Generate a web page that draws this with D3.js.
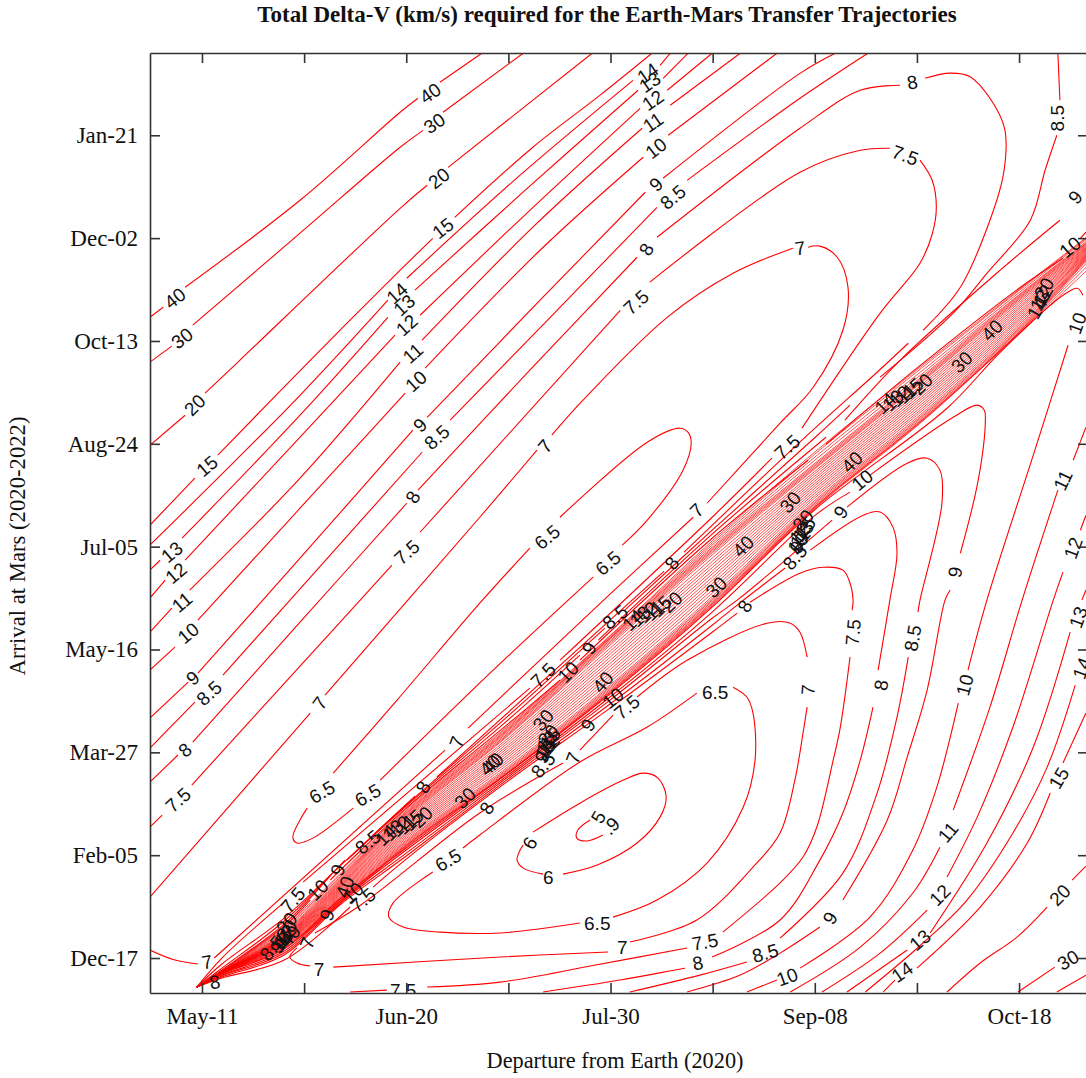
<!DOCTYPE html>
<html>
<head>
<meta charset="utf-8">
<script src="https://cdn.jsdelivr.net/npm/d3@7"></script>
<style>
  body { margin: 0; background: #fff; }
  svg { display: block; }
  .axis path, .axis line { stroke: #333; stroke-width: 1.6; }
  .axis text { font-family: "Liberation Serif", serif; font-size: 23px; fill: #111; }
  .title { font-family: "Liberation Serif", serif; fill: #111; }
  .contour { fill: none; stroke: #f00; stroke-width: 1.1; }
  .bundle { fill: none; stroke: #f00; stroke-width: 0.7; }
  .clabel { font-family: "Liberation Sans", sans-serif; font-size: 19px; fill: #111; text-anchor: middle; }
</style>
</head>
<body>
<div id="chart"></div>
<script>
// days since May-11 (departure) and days since Dec-17 (arrival)
const depTicks = [0, 20, 40, 60, 80, 100, 120, 140, 160];
const depLabels = {0: "May-11", 40: "Jun-20", 80: "Jul-30", 120: "Sep-08", 160: "Oct-18"};
const arrTicks = [0, 50, 100, 150, 200, 250, 300, 350, 400];
const arrLabels = ["Dec-17", "Feb-05", "Mar-27", "May-16", "Jul-05", "Aug-24", "Oct-13", "Dec-02", "Jan-21"];

// null = break in the line where a label sits
const c40 = [[-10.2,311.5],[-7.6,316.4],null,[-3.3,326.1],[19.2,368.4],[38.8,411.2],[42.3,418],null,[46.6,425.8],[54.8,439.9]];
const c30 = [[-10.2,289.7],[-5.9,297.5],null,[-1.8,307.7],[19.2,352.4],[38.8,394.2],[43.3,402.4],null,[47.2,411.2],[62.9,439.9]];
const c20 = [[-10.2,249.3],[-3.3,263.9],null,[.6,274.6],[7.4,290.6],[38.8,364.5],[44.1,375.7],null,[48.2,384.4],[76.4,439.9]];
const c15 = [[-10.2,210.4],[-1.4,233.3],null,[3.1,244.5],[21.2,290.6],[38.8,334.4],[45.2,349.9],null,[49.5,360.1],[64.8,394.2],[77.9,419.4],[88.1,439.9]];
const c14 = [[-10.2,200.7],[19.2,273.6],[36.4,319.8],null,[40.1,330.5],[62.3,380.6],[84.4,426.7],null,[89.7,434],[91.7,439.9]];
const c13 = [[-10.2,188.6],[-8.2,193.4],null,[-3.9,204.1],[19.2,263.9],[36.4,311.5],null,[41.7,324.7],[63.3,373.3],[85.4,421.9],null,[90.3,427.7],[95.2,439.9]];
const c12 = [[-10.2,175],[-7.2,183.7],null,[-3.3,193.4],[19.2,253.2],[37.8,302.8],null,[42.7,312.5],[64.2,363.5],[85.8,413.1],null,[91.1,421.9],[99.9,439.9]];
const c11 = [[-10.2,158.4],[-5.9,170.1],null,[-2.4,178.9],[19.2,233.3],[38.8,289.7],null,[43.1,300.4],[65.2,356.3],[86.2,403.4],null,[91.7,414.6],[105.4,439.9]];
const c10 = [[-10.2,140],[-5.3,151.2],null,[-.8,164.3],[19.2,218.7],[39.8,274.6],null,[43.7,286.8],[66.2,344.1],[86.4,389.3],null,[91.3,400],[112.6,439.9]];
const c9 = [[-10.2,116.6],[-2.7,134.1],null,[-.8,138.5],[19.2,194.4],[41.3,256.6],null,[44.1,262.9],[66.2,319.8],[86.8,372.3],null,[90.3,379.1],[117.1,430.1],[124,439.9]];
const c85 = [[-10.2,102.1],[-1.4,124.4],null,[4.1,137.5],[25.1,195.9],[43.1,245.9],null,[48.6,261.5],[68.2,311.5],[89.1,365],null,[95,378.1],[117.1,418],[130.4,439.9]];
const c8 = [[-10.2,85.5],[-4.7,98.7],null,[-1.8,105],[19.2,163.3],[40.1,221.1],null,[42.3,227.5],[64.2,285.8],[85.2,340.7],null,[89.1,350.4],[117.1,403.4],[128.9,421.9],[136.7,424.3],null,
  [141.6,427.7],[146.5,430.2],[150.4,428.5],[154.3,418],[157.2,403],[157,382],[154.3,358.7],[148.5,326.1],[141.2,305.2],null,
  [138.3,298.9],[132.2,284.8],[117.5,251.8],[94.4,197.3],null,[90.5,188.1],[46,88],null,[41.7,78.7],[27,44.7],[16.1,19.4],[3.9,-2.9],[-1,-14.1]];
const c75 = [[-10.2,63.7],[-7.8,69.5],null,[-2,84.1],[19.2,141.9],[37.2,191],null,[42.7,207],[81.9,314.9],null,[87.7,328.6],[117.1,382],[128.9,392.7],[134.7,393.7],null,
  [140.6,387.9],[143,378],[143.8,365],[143,352],[140.6,337.8],[132.8,313.5],[117.5,257.6],null,[111.6,243],[99.9,214.3],[70.1,144.8],null,[64.2,131.2],[19.8,36.9],null,[15.9,26.7],[3.9,0],[-1,-14.1]];
const c7 = [[-10.2,29.6],[21.2,119.1],null,[24.1,127.8],[54.4,214.3],[65.6,246.9],null,[68.5,254.2],[74.6,271.2],[91.1,311.5],[104,332.9],[115.7,345.1],null,
  [118.7,345.6],[121,346.1],[124.4,340.7],[126.5,326.1],[125.5,305.2],[119.7,277.5],[113.2,260],[98.9,221.1],null,[96.2,214.3],[79.9,176.9],[52.1,111.8],null,[47.6,101.1],[2.4,0],null,[-.8,-2.9],[-5.3,-1],[-10.2,3.9]];
const c65Upper = [[25.7,89.9],[38.2,125.4],[54.4,172.5],[64.2,199.3],null,[70.1,214.3],[87.2,250.8],[93.6,257.6],[95.2,255.6],[95.8,250.3],[94.2,237.2],[87.2,212.9],[82.3,200.7],null,
  [76.6,185.2],[56.4,138.5],[34.9,86.5],null,[29.6,72.9],[21.7,58.3],[18.6,55.9],[17.8,58.8],[19.2,67.1],[20.6,72.9]];
const c65Lower = [[96.9,128.8],[87.2,112.3],[74,95.3],[54.4,59.8],[51.1,53.5],null,[45.2,41.8],[37.4,26.7],[36.6,19.9],[39.4,15.1],[46.6,12.6],[58.4,12.2],[74,17],null,
  [80.5,19.9],[89.1,28.2],[98.9,46.2],[106,73.4],[108.3,96.2],[107.9,119.1],[106.7,126.9],[104,131.7]];
const c6 = [[64.8,61.2],[74,75.3],[82.5,86.5],[86.4,89.9],[89.3,87.5],[90.9,78.3],[89.7,68.5],[85.2,55.9],[77.4,45.2],[70.7,40.8],null,[66.8,40.8],[62.9,43.7],[61.7,47.6],[62.3,52.5],[62.9,54.9]];
const c59 = [[76,67.1],[73.6,62.2],[73.4,58.3],[75.4,56.9],[78.5,59.8]];
const c7Low = [[22.1,12.2],[31.1,25.8],[54.4,70.5],[70.7,94.8],null,[74,101.1],[80.5,118.1],null,[85.2,126.9],[95,144.8],[110.7,162.8],[115.2,162.8],[117.1,158.4],[118.5,146.3],null,
  [118.5,122],[117.7,109.4],[116.1,86.5],[113.2,60.8],[107.9,44.2],[96.9,18.5],[83.8,7.8],null,[79.5,2.9],[58.4,.5],[25.7,-4.4],null,[21.2,-3.9],[18.6,-2.4],[17.2,.5],[18.6,4.9]];
const c75Low = [[29,-16.5],[36.2,-15.6],null,[44.1,-14.1],[58.4,-11.7],[76,-3.9],[95,4.9],null,[102,12.6],[113.2,36.5],[117.7,49.1],[120.4,63.7],[123.6,96.2],[125,112.3],[126.9,146.3],null,
  [127.3,169.1],[127.5,174],[126.7,183.7],[125.5,188.6],[121.6,190],[117.1,187.1],[107.3,173],null,[104.8,167.7],[99.9,158.4],[79.9,121.5],[59.9,86],[40,48.1],[33.5,34.5],null,[29,24.8],[16.1,-1],[3.9,-9.7],[-1,-14.1]];
const c8Low = [[66.8,-16.5],[81.9,-10.7],[94.6,-4.9],null,[99.9,.5],[113.2,18.5],[121,47.6],[125.5,70.5],[128.9,96.2],[131.4,122],null,[132.4,140],[134.7,174],[136.1,196.8],[135.3,209.5],[132.8,216.8],[129.5,215.3],[119.1,198.3],null,
  [114.2,189.6],[104.8,171.6],[99.9,161.8],[79.9,123.5],[59.9,87],[40,49.6],[27,25.8],[16.1,1.5],[3.9,-9.2],[-1,-14.1]];
const c85Low = [[83.8,-16.5],[97.5,-8.3],[106.7,-1.9],null,[113.2,9.7],[125.5,41.3],[132.2,80.2],[136.1,117.1],[138.3,146.3],null,[140.2,168.2],[140.6,174],[144.9,221.1],[144.5,237.2],[142,243],[138.1,240.6],[126.3,219.2],null,
  [123.4,212.9],[104.8,174],[99.9,165.2],[79.9,125.4],[59.9,88],[40,51],[27,26.7],[16.1,2.4],[3.9,-8.7],[-1,-14.1]];
const c9Low = [[95,-16.5],[105.4,-8.3],[113.2,2.4],[121,15.1],null,[125.5,28.2],[134.2,67.1],[138.1,97.7],[142,130.3],[145.5,174],[146.5,178.9],null,[148.5,196.8],[152,232.3],[153.4,261.5],[153.2,266.3],[151.8,268.8],[147.1,262.9],[130.8,234.8],null,
  [126.9,226.5],[120.1,215.3],[99.9,168.2],[79.9,126.9],[59.9,88.9],[40,52.5],[27,27.7],[16.1,3.4],[3.9,-8.3],[-1,-14.1]];
const c10Low = [[106.7,-16.5],[112.6,-10.7],null,[117.1,-4.9],[130.8,19.9],[139.2,52.5],[143.9,83.1],[148.1,123.9],null,[150,140],[153.7,174],[163.1,246.9],[169.6,297.9],null,
  [172.5,322.2],[171.4,325.6],[168.6,322.2],[156.3,294.5],[145.9,267.3],[120.1,218.2],[99.9,170.6],[79.9,128.3],[59.9,89.9],[40,53.5],[27,28.7],[16.1,4.4],[3.9,-7.8],[-1,-14.1]];
const c85Up = [[167.6,439.9],[168,417],null,[167.4,400],[165.1,383],[162.2,358.7],[153.7,332.9],[147.1,313.5],[132.8,282.4],null,[126.9,268.8],[120.1,253.2],[99.9,208],[82.8,169.1],null,[78.9,160.4],[59.9,117.6],[40,74.4],[32.9,58.3],null,[28,47.6],[16.1,18],[3.9,-4.9],[-1,-14.1]];
const c9Up = [[173.5,375.7],[173.1,375.7],null,[168,358.7],[156.3,334.4],[136.7,290.6],[125.9,261.5],null,[122.2,253.2],[99.9,206.1],[77.6,154.6],null,[74,147.3],[59.9,115.7],[40,73.9],[28.4,47.6],null,[25.1,39.9],[16.1,16.5],[3.9,-5.8],[-1,-14.1]];
const c10Up = [[173.1,352.9],[172,349.9],null,[168.6,340.2],[160,325.6],[140,286.8],[122.2,249.8],null,[118.7,242],[99.9,204.1],[74,144.8],null,[70.1,135.1],[59.9,113.7],[40,72.9],[25.1,37.9],null,[21.2,28.2],[16.1,15.6],[3.9,-6.3],[-1,-14.1]];
const c11R = [[115.2,-16.5],[128.9,5.3],[139.2,31.6],[144.5,53.9],null,[147.1,71.9],[154.3,122],[160.6,174],[167.6,227.5],null,[170.6,242],[173.1,258.1]];
const c12R = [[121.4,-16.5],[132.8,2.4],[142,23.3],null,[145.9,39.4],[151.8,68.5],[158.8,112.3],[166.7,174],[168.6,187.6],null,[172,208],[173.1,215.3]];
const c13R = [[126.3,-16.5],[138.1,3.9],null,[142.6,12.2],[153.7,55.9],[162.8,102.6],[170,158.4],null,[172.3,174],[173.1,178.9]];
const c14R = [[129.9,-16.5],[141.2,7.3],[149.8,28.2],[158.8,60.8],[165.5,92.8],[171,132.7],null,[172.9,149.7]];
const c15R = [[133.4,-16.5],[135.7,-10.7],null,[140,-4.9],[152.4,24.8],[161.6,55.9],[166.1,80.2],null,[168.6,94.8],[173.1,119.1]];
const c20R = [[145.9,-16.5],[152.4,-2.4],[159.6,10.2],[165.5,24.8],null,[170.4,37.9],[173.1,44.7]];
const c30R = [[159.8,-16.5],[167,-4.4],null,[172.3,5.3]];
const c40R = [[167.4,-16.5],[173.1,-8.3]];

// the tight bundle along the two ridges: arrival day of every line at a few departure days
const bundleDeps = [-1, 4, 16, 40, 60, 80, 100, 120, 140, 160, 174];
const bundleArrivals = [
  [-14,-14,-14,-14,-14,-14,-14,-14,-14,-14,-14,-14,-14,-14,-14,-14,-14,-14,-14,-14,-14,-14,-14,-14,-14,-14,-14,-14,-14],
  [-6.4,-6.45,-6.5,-6.55,-6.6,-6.65,-6.7,-6.75,-6.8,-6.83,-6.86,-6.89,-6.92,-6.95,-6.98,-7.01,-7.04,-7.07,-7.1,-7.13,-7.16,-7.19,-7.22,-7.26,-7.3,-7.34,-7.4,-7.5,-7.6],
  [15,14.3,13.6,12.8,12.3,11.9,11.5,11.1,10.7,10.5,10.2,9.9,9.7,9.4,9.1,8.9,8.6,8.3,8.1,7.8,7.5,7.3,7,6.6,6.2,5.8,5.4,5,4.7],
  [72.3,71.6,71,70.5,70,69.4,68.9,68.3,67.7,66.9,66.1,65.3,64.5,63.7,62.9,62.1,61.3,60.5,59.7,58.9,58.1,57.3,56.7,56.1,55.5,55,54.7,54.4,54],
  [113,112.4,111.7,111.2,110.7,110,109.3,108.7,108.2,107,105.9,104.7,103.5,102.4,101.2,100.1,98.9,97.8,96.6,95.5,94.3,93.1,92.3,91.7,91.1,90.5,90.4,90.2,90.1],
  [157,156.6,156,155.7,155.3,154.6,153.9,153.2,152.3,150.8,149.3,147.9,146.4,144.9,143.4,141.9,140.4,138.9,137.4,135.9,134.5,133,132.2,131.5,130.8,130.1,129.7,129.3,129],
  [203,202,201,200,199.3,198.6,197.9,197.2,196.2,194.6,193,191.5,190,188.4,186.9,185.3,183.8,182.2,180.7,179.1,177.6,176,175,174.3,173.6,172.9,172.4,171.9,171.4],
  [246,245,243.5,242,240.5,239.8,239.1,238.4,237.8,236.6,235.5,234.3,233.1,231.9,230.7,229.6,228.4,227.2,226,224.8,223.7,222.5,221.7,221,220.3,219.6,219.3,219,218.7],
  [286,285,283.5,282,280.7,280,279.3,278.6,278,276.8,275.7,274.5,273.3,272.1,270.9,269.8,268.6,267.4,266.2,265,263.9,262.7,261.8,261.1,260.4,259.7,259.4,259,258.6],
  [325,324.5,323.5,322.5,322,321.4,320.8,320.2,319.5,318.6,317.6,316.6,315.7,314.7,313.7,312.8,311.8,310.8,309.9,308.9,307.9,307,306.2,305.6,305,304.4,304.1,303.8,303.5],
  [352,351.5,351,350,349.4,349,348.6,348.2,347.6,347.3,346.9,346.5,346.2,345.8,345.4,345.1,344.7,344.3,344,343.6,343.2,342.9,342.5,342.1,341.7,341.3,340,338,336]
];

const namedContours = [c40, c30, c20, c15, c14, c13, c12, c11, c10, c9, c85, c8, c75, c7, c65Upper, c65Lower, c6, c59,
  c7Low, c75Low, c8Low, c85Low, c9Low, c10Low, c85Up, c9Up, c10Up, c11R, c12R, c13R, c14R, c15R, c20R, c30R, c40R];

// contour labels: text, departure day, arrival day
const contourLabels = [
  ["40",-5.3,320.8],["30",-3.9,301.3],["20",-1.4,268.8],["15",1,239.1],["13",-5.9,197.3],["12",-5.1,187.1],["11",-3.9,173],["10",-2.7,158],["9",-1.8,136.1],["8.5",1.4,128.8],["8",-3.3,101.1],["7.5",-4.7,76.8],
  ["14",38.2,323.2],["13",39.6,317.4],["12",40.1,307.7],["11",41.3,294],["10",41.9,280.4],["9",42.7,259.1],["8.5",46,253.2],["8",41.3,224.1],["7.5",40.1,197.3],["7",23.1,123.9],
  ["40",44.7,420.4],["30",45.5,405.8],["20",46.4,379.1],["15",47.2,354.8],["14",87.3,430.1],["13",87.7,425.8],["12",88.3,417],["11",88.3,406.3],["10",88.9,393.7],["9",88.9,376.2],["8.5",92.2,369.9],["8",87,344.6],["7.5",85,318.8],
  ["7",117.1,345.1],["7.5",137.7,390.3],["8",139.1,425.8],["8.5",167.5,408.3],["9",171,369.9],["10",170,345.6],
  ["7",67.2,248.8],["6.5",67.6,204.6],["6.5",79.5,192],["7",96.9,217.7],["7.5",114.6,248.4],["8",92,192],["8.5",80.9,165.7],["9",75.8,150.7],["10",71.7,139],["7.5",66.8,137.5],
  ["14",84.4,164.3],["13",85.8,166.2],["12",87.2,168.2],["11",88.5,169.1],["15",89.9,171.1],["20",92,173],
  ["14",133.8,269.7],["13",135.3,271.2],["12",136.7,273.2],["11",137.9,274.6],["15",139.2,277],["20",141,279],
  ["14",36,59.8],["13",37.4,62.2],["12",38.8,64.2],["11",40,65.1],["15",41.3,67.1],["20",43.1,68.5],
  ["8.5",32.5,56.4],["9",26.6,42.8],["10",22.7,33],["7.5",17.8,28.2],["40",28,34.5],["10",29.6,31.6],["7.5",31.5,28.2],["9",24.5,20.9],["7",20.6,7.3],
  ["30",51.5,77.8],["40",56.4,93.8],["8",55.8,72.9],["6.5",48.2,47.6],["8",43.3,83.1],["6.5",32.5,79.2],["6.5",23.5,80.7],["7",49.9,105],["8",2.5,-11.7],["7",1,-1.9],["7",22.9,-5.3],["7.5",39.4,-15.6],
  ["8.5",13.7,4.9],["9",14.7,5.3],["10",15.5,7.8],["11",15.9,9.7],["12",16.3,11.2],["20",16.6,13.6],["30",16.6,17],["40",17.2,10.7],
  ["8.5",66.8,93.8],["9",66.6,97.7],["10",67.2,101.1],["11",67.4,103],["12",68,103.5],["13",67.6,105.5],["15",68.2,106.9],["20",67.8,108.4],["30",66.8,115.7],
  ["40",57,94.8],["7",72.7,97.2],["9",75.6,113.2],["10",80.5,126.4],["40",78.5,134.1],["7.5",83.2,122],
  ["8.5",116.1,194.9],["9",116.5,199.8],["10",116.7,201.7],["11",117.1,204.1],["12",117.1,206.6],["13",117.7,207.5],["15",118.1,209.5],["20",117.7,212.9],["30",115.2,221.6],
  ["40",127.3,241.1],["10",129.3,232.3],["9",125.1,216.8],["30",148.8,289.7],["40",154.7,305.2],
  ["14",163.5,315.9],["13",164.1,319.8],["12",164.7,322.2],["20",164.9,325.6],["10",171.4,308.6],
  ["40",106,200.2],["30",100.7,180.3],["8",106.3,171.1],["6.5",100.5,129.3],["7",118.7,130.3],["7.5",127.5,158.4],["8",133,132.7],["8.5",139.2,155.5],["9",147.5,187.6],["10",149.4,132.7],
  ["11",168.6,232.3],["12",170.6,199.3],["13",171.6,165.7],["14",172.3,140.9],["15",167.8,87.5],["20",168,30.6],["30",169.6,-1],
  ["11",146.1,61.2],["12",144.5,30.6],["13",140.6,8.7],["14",137.1,-6.8],["9",123,19.4],["10",114.6,-9.2],["8.5",110.3,2.4],["8",97.1,-2.4],["7.5",98.5,7.8],["7",82.3,5.3],["6.5",77.4,17],["6",67.8,39.4],["6",64.2,55.9],["5",77.6,68.5],[".9",80.1,64.2]
];

// rotation of each label, same order
const labelAngles = [
  -38,-38,-45,-40,-40,-40,-40,-40,-40,-42,-40,-42,
  -42,-42,-42,-42,-42,-45,-42,-60,-42,-55,
  -35,-35,-38,-38,-35,-35,-35,-35,-38,-45,-40,-60,-42,
  -8,20,-10,-90,-50,-40,
  -50,-40,-40,-45,-42,-55,-40,-60,-45,-45,
  -45,-45,-45,-45,-45,-45,
  -45,-45,-45,-45,-45,-45,
  -45,-45,-45,-45,-45,-45,
  -40,-70,-45,-50,-70,-45,-40,-70,-70,
  -45,-45,-60,-30,-60,-30,-30,-70,-10,-10,0,0,
  -50,-60,-50,-50,-50,-50,-50,-50,
  -50,-60,-50,-50,-50,-50,-50,-50,-50,
  -45,-70,-60,-40,-50,-40,
  -50,-60,-50,-50,-50,-50,-50,-50,-50,
  -45,-40,-55,-45,-45,
  -60,-60,-60,-60,-70,
  -45,-45,-60,0,-85,-85,-80,-80,-80,-75,
  -65,-70,-70,-70,-60,-45,-30,
  -50,-45,-40,-35,-60,-20,-15,-10,-10,0,0,0,-60,-60,-45
];

const width = 1086, height = 1078;

const x = d3.scaleLinear().domain([-10.18, 173.5]).range([150, 1088]);
const y = d3.scaleLinear().domain([-17, 440]).range([993, 53]);

const svg = d3.select("#chart").append("svg")
    .attr("width", width)
    .attr("height", height);

svg.append("defs").append("clipPath")
    .attr("id", "clip")
    .append("rect")
    .attr("x", 150).attr("y", 53)
    .attr("width", 938).attr("height", 940);

const plot = svg.append("g").attr("clip-path", "url(#clip)");

const line = d3.line()
    .defined(function(d) { return d !== null; })
    .x(function(d) { return x(d[0]); })
    .y(function(d) { return y(d[1]); })
    .curve(d3.curveCatmullRom.alpha(0.5));

const bundleLines = d3.transpose(bundleArrivals).map(function(row) {
    return row.map(function(a, i) { return [bundleDeps[i], a]; });
});

plot.selectAll("path.contour")
    .data(namedContours)
    .enter().append("path")
    .attr("class", "contour")
    .attr("d", line);

plot.selectAll("path.bundle")
    .data(bundleLines)
    .enter().append("path")
    .attr("class", "bundle")
    .attr("d", line);

plot.selectAll("text.clabel")
    .data(contourLabels)
    .enter().append("text")
    .attr("class", "clabel")
    .attr("dy", "0.35em")
    .attr("transform", function(d, i) {
        return "translate(" + x(d[1]) + "," + y(d[2]) + ") rotate(" + labelAngles[i] + ")";
    })
    .text(function(d) { return d[0]; });

// axes, ticks point inwards

svg.append("g")
    .attr("class", "axis")
    .attr("transform", "translate(0,993)")
    .call(d3.axisBottom(x).tickValues(depTicks).tickSizeInner(-10).tickSizeOuter(0).tickPadding(15)
        .tickFormat(function(d) { return depLabels[d] || ""; }));

svg.append("g")
    .attr("class", "axis")
    .attr("transform", "translate(0,53)")
    .call(d3.axisTop(x).tickValues(depTicks).tickSizeInner(-10).tickSizeOuter(0).tickFormat(""));

svg.append("g")
    .attr("class", "axis")
    .attr("transform", "translate(150,0)")
    .call(d3.axisLeft(y).tickValues(arrTicks).tickSizeInner(-10).tickSizeOuter(0).tickPadding(12)
        .tickFormat(function(d, i) { return arrLabels[i]; }));

svg.append("g")
    .attr("class", "axis")
    .attr("transform", "translate(1088,0)")
    .call(d3.axisRight(y).tickValues(arrTicks).tickSizeInner(-10).tickSizeOuter(0).tickFormat(""));

svg.append("text")
    .attr("class", "title")
    .attr("x", 607).attr("y", 22)
    .attr("text-anchor", "middle")
    .attr("font-weight", "bold")
    .attr("font-size", 23)
    .text("Total Delta-V (km/s) required for the Earth-Mars Transfer Trajectories");

svg.append("text")
    .attr("class", "title")
    .attr("x", 615).attr("y", 1068)
    .attr("text-anchor", "middle")
    .attr("font-size", 22.3)
    .text("Departure from Earth (2020)");

svg.append("text")
    .attr("class", "title")
    .attr("transform", "translate(25,546) rotate(-90)")
    .attr("text-anchor", "middle")
    .attr("font-size", 22.7)
    .text("Arrival at Mars (2020-2022)");
</script>
</body>
</html>
